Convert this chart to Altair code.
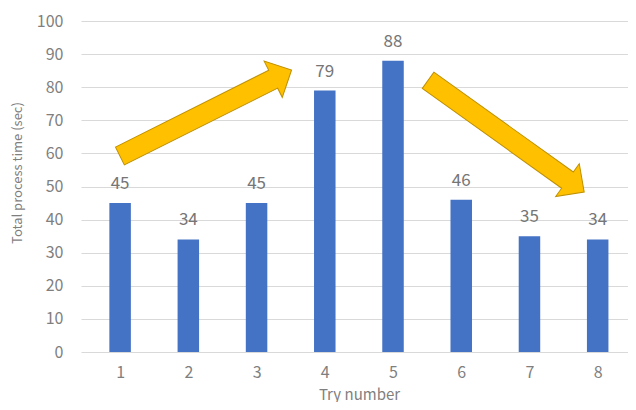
import altair as alt
import pandas as pd

# ---- data ----
tries = [1, 2, 3, 4, 5, 6, 7, 8]
times = [45, 34, 45, 79, 88, 46, 35, 34]

# annotation arrows (centre in data coords, rotation in degrees)
arrow_x = [2.255, 6.658]
arrow_y = [72.2, 65.2]
arrow_angle = [333.4, 35.6]

y_ticks = [0, 10, 20, 30, 40, 50, 60, 70, 80, 90, 100]

ARROW_PATH = "M-1,-0.104L0.786,-0.104L0.786,-0.211L1,0L0.786,0.211L0.786,0.104L-1,0.104Z"

bars_df = pd.DataFrame({"try": tries, "time": times})
arrows_df = pd.DataFrame({"try": arrow_x, "time": arrow_y, "angle": arrow_angle})

FONT = "Noto Sans CJK JP"
GRAY = "#7F7F7F"

x_enc = alt.X(
    "try:Q",
    scale=alt.Scale(domain=[0.5, 8.371], nice=False, zero=False),
    axis=alt.Axis(
        values=tries,
        format="d",
        grid=False,
        domain=False,
        ticks=False,
        labelFontSize=16,
        labelColor=GRAY,
        labelFont=FONT,
        labelPadding=12,
        title="Try number",
        titleFont=FONT,
        titleFontSize=15,
        titleFontWeight="normal",
        titleColor=GRAY,
        titleX=278,
        titleY=42,
        titleAlign="center",
        titleBaseline="middle",
    ),
)
y_enc = alt.Y(
    "time:Q",
    scale=alt.Scale(domain=[0, 100], nice=False),
    axis=alt.Axis(
        values=y_ticks,
        tickCount=11,
        labelOverlap=False,
        grid=True,
        gridColor="#D9D9D9",
        gridWidth=1,
        domain=False,
        ticks=False,
        labelFontSize=16,
        labelColor=GRAY,
        labelFont=FONT,
        labelPadding=18,
        title="Total process time (sec)",
        titleFont=FONT,
        titleFontSize=13,
        titleFontWeight="normal",
        titleColor=GRAY,
        titleAngle=270,
        titleX=-64,
        titleY=151.5,
        titleAlign="center",
        titleBaseline="middle",
    ),
)

bars = alt.Chart(bars_df).mark_bar(size=21.5, color="#4472C4").encode(x=x_enc, y=y_enc)

labels = alt.Chart(bars_df).mark_text(
    dy=-14, baseline="alphabetic", fontSize=17, font=FONT, color="#767676"
).encode(x=x_enc, y=y_enc, text=alt.Text("time:Q"))

arrows = alt.Chart(arrows_df).mark_point(
    shape=ARROW_PATH,
    filled=True,
    fill="#FFC000",
    stroke="#BF9000",
    strokeWidth=1,
    opacity=1,
    fillOpacity=1,
    strokeOpacity=1,
    size=36864,
).encode(x=x_enc, y=y_enc, angle=alt.Angle("angle:Q", scale=None))

chart = (
    alt.layer(bars, labels, arrows)
    .properties(
        width=547,
        height=331,
        padding={"left": 73, "top": 13, "right": 0, "bottom": 50},
        autosize=alt.AutoSizeParams(type="none"),
    )
    .configure_view(stroke=None)
)

chart.save("out.html", embed_options={"renderer": "svg", "actions": False})
